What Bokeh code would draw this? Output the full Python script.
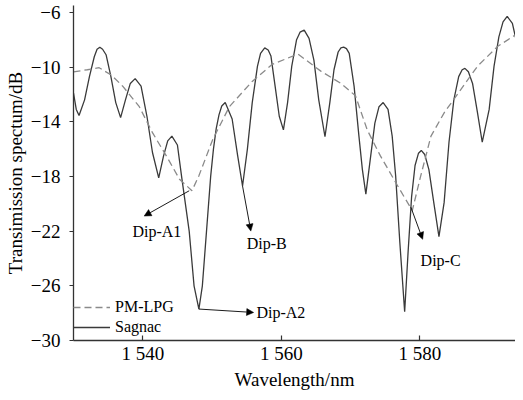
from bokeh.plotting import figure
from bokeh.models import Range1d, Arrow, NormalHead, Label, Legend, LegendItem, FixedTicker
from bokeh.embed import file_html
from bokeh.resources import INLINE

# Sagnac interferometer spectrum (solid)
sagnac_wl = [1530.0, 1530.4, 1530.8, 1531.6, 1532.3, 1533.0, 1533.4, 1533.8, 1534.2, 1534.7,
             1535.4, 1536.1, 1536.8, 1537.5, 1538.2, 1538.9, 1539.75, 1540.6, 1541.4, 1542.3,
             1543.0, 1543.6, 1544.2, 1545.0, 1545.6, 1546.7, 1547.4, 1548.1, 1548.6, 1549.2,
             1549.8, 1550.2, 1550.6, 1551.0, 1551.4, 1551.9, 1552.9, 1553.7, 1554.4, 1555.1,
             1555.8, 1556.55, 1557.0, 1557.6, 1558.1, 1558.5, 1559.1, 1559.7, 1560.3, 1560.9,
             1561.5, 1562.2, 1562.7, 1563.3, 1564.0, 1564.7, 1565.4, 1566.3, 1567.0, 1567.6,
             1568.2, 1568.6, 1569.0, 1569.4, 1569.8, 1570.5, 1571.2, 1571.7, 1572.2, 1572.9,
             1573.5, 1574.1, 1574.7, 1575.4, 1576.0, 1576.5, 1577.1, 1577.8, 1578.3, 1578.8,
             1579.3, 1579.8, 1580.2, 1580.7, 1581.3, 1582.0, 1582.75, 1583.5, 1584.2, 1584.9,
             1585.6, 1586.1, 1586.5, 1587.0, 1587.6, 1588.3, 1589.0, 1590.0, 1590.7, 1591.4,
             1592.0, 1592.6, 1593.35, 1594.1, 1594.7]
sagnac_db = [-11.9, -13.1, -13.55, -12.4, -10.7, -9.25, -8.7, -8.55, -8.7, -9.1,
             -10.7, -12.6, -13.7, -12.4, -11.2, -10.85, -11.4, -13.6, -16.25, -18.1,
             -16.5, -15.4, -15.05, -15.7, -18.0, -22.0, -26.0, -27.7, -26.0, -22.0,
             -18.0, -16.0, -14.5, -13.5, -12.85, -12.6, -13.8, -16.5, -18.7, -16.0,
             -12.6, -9.95, -9.0, -8.6, -8.75, -9.2, -11.4, -13.6, -14.6, -12.6,
             -9.95, -8.0, -7.45, -7.3, -7.9, -9.5, -12.4, -15.1, -12.6, -10.2,
             -8.9, -8.6, -8.55, -8.65, -9.0, -11.4, -15.05, -17.5, -19.3, -16.5,
             -14.1, -12.9, -12.6, -13.1, -15.05, -17.95, -22.8, -27.9, -23.5, -19.5,
             -17.2, -16.3, -16.1, -16.4, -17.5, -19.9, -22.4, -19.9, -15.5, -12.4,
             -10.7, -10.2, -10.1, -10.35, -11.2, -13.3, -15.5, -13.1, -9.95, -7.8,
             -6.7, -6.3, -6.8, -8.5, -11.05]

# PM-LPG spectrum (dashed)
lpg_wl = [1530.0, 1532.0, 1533.7, 1535.5, 1537.1, 1539.5, 1541.4, 1543.4, 1545.3, 1547.1,
          1548.1, 1550.1, 1552.5, 1555.8, 1558.7, 1562.4, 1565.7, 1568.6, 1570.7, 1572.4,
          1574.3, 1576.8, 1578.9, 1580.1, 1581.6, 1583.5, 1585.9, 1588.3, 1591.2, 1594.7]
lpg_db = [-10.35, -10.2, -10.05, -10.6, -11.4, -12.9, -14.8, -16.5, -18.2, -19.05,
          -17.95, -15.3, -12.9, -11.05, -9.8, -9.05, -10.3, -11.2, -12.1, -14.6,
          -16.5, -18.7, -20.5, -18.0, -15.05, -13.35, -11.65, -9.95, -8.5, -7.35]

x_ticks = [1540, 1560, 1580]
x_tick_labels = ["1 540", "1 560", "1 580"]
y_ticks = [-30, -26, -22, -18, -14, -10, -6]
y_tick_labels = ["\u221230", "\u221226", "\u221222", "\u221218", "\u221214", "\u221210", "\u22126"]

series_names = ["PM-LPG", "Sagnac"]
x_title = "Wavelength/nm"
y_title = "Transimission spectum/dB"

FONT = "Liberation Serif"

p = figure(width=515, height=392, output_backend="svg", toolbar_location=None,
           x_range=Range1d(1530, 1593.8), y_range=Range1d(-30, -5.5),
           min_border_left=73, min_border_right=0, min_border_top=5, min_border_bottom=0)
p.outline_line_color = None
p.grid.visible = False
p.background_fill_color = "white"
p.border_fill_color = "white"

r_sag = p.line(sagnac_wl, sagnac_db, line_color="#3a3a3a", line_width=1.3)
r_lpg = p.line(lpg_wl, lpg_db, line_color="#8a8a8a", line_width=1.3, line_dash="7 4")

# axes
for ax in (p.xaxis[0], p.yaxis[0]):
    ax.axis_line_color = "#333333"
    ax.axis_line_width = 1.3
    ax.major_tick_line_color = "#333333"
    ax.major_tick_line_width = 1.2
    ax.minor_tick_line_color = None
    ax.major_label_text_font = FONT
    ax.major_label_text_font_size = "19px"
    ax.major_label_text_color = "black"
    ax.axis_label_text_font = FONT
    ax.axis_label_text_font_size = "19px"
    ax.axis_label_text_font_style = "normal"
    ax.axis_label_text_color = "black"

p.xaxis.ticker = FixedTicker(ticks=x_ticks)
p.xaxis.major_label_overrides = {t: l for t, l in zip(x_ticks, x_tick_labels)}
p.xaxis.major_tick_in = 5
p.xaxis.major_tick_out = 0
p.xaxis.major_label_standoff = 2
p.xaxis.axis_label = x_title
p.xaxis.axis_label_standoff = 2

p.yaxis.ticker = FixedTicker(ticks=y_ticks)
p.yaxis.major_label_overrides = {t: l for t, l in zip(y_ticks, y_tick_labels)}
p.yaxis.major_tick_in = 0
p.yaxis.major_tick_out = 4
p.yaxis.major_label_standoff = 9
p.yaxis.axis_label = y_title
p.yaxis.axis_label_standoff = 2

# legend
legend = Legend(items=[LegendItem(label=series_names[0], renderers=[r_lpg]),
                       LegendItem(label=series_names[1], renderers=[r_sag])],
                location=(0, 3), orientation="vertical",
                glyph_width=37, glyph_height=20, label_height=20, label_standoff=5,
                spacing=0, padding=0, margin=0,
                border_line_color=None, background_fill_alpha=0,
                label_text_font=FONT, label_text_font_size="16px", label_text_color="black")
p.add_layout(legend)

# annotations
def arrow(x0, y0, x1, y1):
    p.add_layout(Arrow(end=NormalHead(size=7, fill_color="black", line_color="black", line_width=0.5),
                       x_start=x0, y_start=y0, x_end=x1, y_end=y1,
                       line_color="black", line_width=0.9))

def label(x, y, t):
    p.add_layout(Label(x=x, y=y, text=t, text_font=FONT, text_font_size="16px",
                       text_color="black", text_align="left", text_baseline="middle"))

arrow(1546.7, -19.05, 1540.2, -20.9)
label(1538.5, -22.0, "Dip-A1")
arrow(1554.4, -18.7, 1555.6, -22.0)
label(1555.0, -22.9, "Dip-B")
arrow(1548.1, -27.7, 1556.0, -27.95)
label(1556.4, -27.95, "Dip-A2")
arrow(1578.7, -20.25, 1580.4, -22.6)
label(1580.1, -24.15, "Dip-C")

open("out.html", "w").write(file_html(p, INLINE))
